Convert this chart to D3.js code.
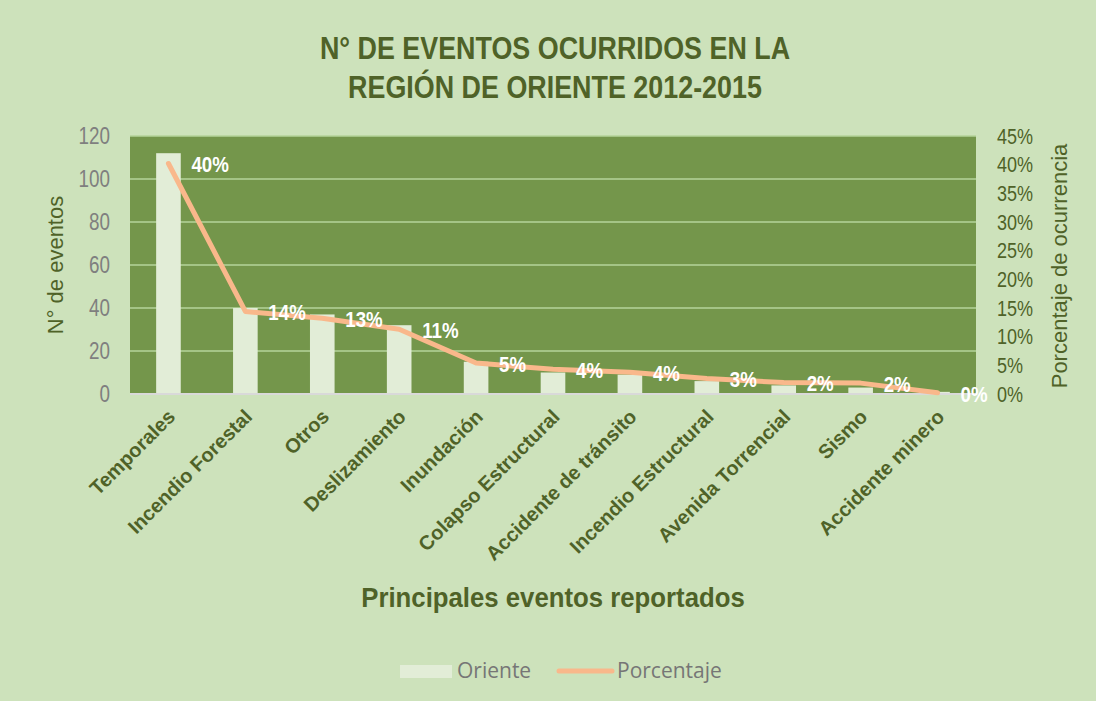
<!DOCTYPE html>
<html>
<head>
<meta charset="utf-8">
<script src="https://cdn.jsdelivr.net/npm/d3@7"></script>
<style>
  body { margin: 0; background: #cde2bb; }
  text { font-family: "Liberation Sans", Arial, sans-serif; }
  text.legend { font-family: "Open Sans", "Noto Sans", sans-serif; }
</style>
</head>
<body>
<svg id="draw"></svg>
<script>
// data
var categories = ["Temporales", "Incendio Forestal", "Otros", "Deslizamiento", "Inundación",
  "Colapso Estructural", "Accidente de tránsito", "Incendio Estructural", "Avenida Torrencial",
  "Sismo", "Accidente minero"];
var oriente = [112, 40, 37, 32, 15, 10, 9, 6, 4, 3, 1];
var porcentaje = [40.2, 14.4, 13.2, 11.3, 5.4, 4.3, 3.8, 2.7, 2.0, 1.9, 0.2];
var pctLabels = ["40%", "14%", "13%", "11%", "5%", "4%", "4%", "3%", "2%", "2%", "0%"];
var leftTicks = [0, 20, 40, 60, 80, 100, 120];
var rightTicks = [0, 5, 10, 15, 20, 25, 30, 35, 40, 45];

var W = 1096, H = 701;
var plot = { left: 130, right: 976, top: 136, bottom: 394 };
var darkGreen = "#4f6228";
var squeeze = 0.82; // no Arial Narrow here, so squeeze Liberation Sans

var svg = d3.select("#draw").attr("width", W).attr("height", H);

svg.append("rect").attr("width", W).attr("height", H).attr("fill", "#cde2bb");

var xScale = d3.scaleBand()
  .domain(categories)
  .range([plot.left, plot.right])
  .paddingInner(0.68)
  .paddingOuter(0.34);

var yScale = d3.scaleLinear().domain([0, 120]).range([plot.bottom, plot.top]);
var y2Scale = d3.scaleLinear().domain([0, 45]).range([plot.bottom, plot.top]);

// plot background
svg.append("rect")
  .attr("x", plot.left).attr("y", plot.top)
  .attr("width", plot.right - plot.left).attr("height", plot.bottom - plot.top)
  .attr("fill", "#74964b");

// gridlines
svg.append("g")
  .selectAll("line")
  .data(leftTicks.slice(1))
  .enter().append("line")
  .attr("x1", plot.left).attr("x2", plot.right)
  .attr("y1", function(d) { return yScale(d); })
  .attr("y2", function(d) { return yScale(d); })
  .attr("stroke", "#b5d39a")
  .attr("stroke-width", 1.5);

// bars
svg.selectAll(".bar")
  .data(oriente)
  .enter().append("rect")
  .attr("class", "bar")
  .attr("x", function(d, i) { return xScale(categories[i]); })
  .attr("y", function(d) { return yScale(d); })
  .attr("width", xScale.bandwidth())
  .attr("height", function(d) { return plot.bottom - yScale(d); })
  .attr("fill", "#e2edd7");

// x axis line
svg.append("line")
  .attr("x1", plot.left).attr("x2", plot.right)
  .attr("y1", plot.bottom).attr("y2", plot.bottom)
  .attr("stroke", "#d9d9d9").attr("stroke-width", 2);

// left axis
var leftAxis = svg.append("g")
  .attr("transform", "translate(" + (plot.left - 20) + ",0)")
  .call(d3.axisLeft(yScale).tickValues(leftTicks).tickSize(0).tickPadding(0));
leftAxis.select(".domain").remove();
leftAxis.selectAll("text")
  .attr("font-size", 23)
  .attr("transform", "scale(" + squeeze + ",1)")
  .attr("fill", "#7f7f7f");

// right axis
var rightAxis = svg.append("g")
  .attr("transform", "translate(" + (plot.right + 21) + ",0)")
  .call(d3.axisRight(y2Scale).tickValues(rightTicks).tickSize(0).tickPadding(0)
    .tickFormat(function(d) { return d + "%"; }));
rightAxis.select(".domain").remove();
rightAxis.selectAll("text")
  .attr("font-size", 22)
  .attr("transform", "scale(" + squeeze + ",1)")
  .attr("fill", darkGreen);

// x labels
svg.append("g")
  .selectAll("text")
  .data(categories)
  .enter().append("text")
  .attr("transform", function(d) {
    return "translate(" + (xScale(d) + xScale.bandwidth() / 2 + 8) + "," + (plot.bottom + 24) + ") rotate(-45)";
  })
  .attr("text-anchor", "end")
  .attr("font-weight", "bold")
  .attr("font-size", 20)
  .attr("fill", darkGreen)
  .text(function(d) { return d; });

// percentage line
var line = d3.line()
  .x(function(d, i) { return xScale(categories[i]) + xScale.bandwidth() / 2; })
  .y(function(d) { return y2Scale(d); });

svg.append("path")
  .datum(porcentaje)
  .attr("d", line)
  .attr("fill", "none")
  .attr("stroke", "#f9b88b")
  .attr("stroke-width", 5)
  .attr("stroke-linejoin", "round")
  .attr("stroke-linecap", "round");

// line labels
svg.selectAll(".pct")
  .data(porcentaje)
  .enter().append("text")
  .attr("class", "pct")
  .attr("transform", function(d, i) {
    return "translate(" + (xScale(categories[i]) + xScale.bandwidth() / 2 + 23) + "," + (y2Scale(d) + 1) + ") scale(0.85,1)";
  })
  .attr("dy", "0.35em")
  .attr("font-size", 22)
  .attr("font-weight", "bold")
  .attr("fill", "#ffffff")
  .text(function(d, i) { return pctLabels[i]; });

// title
var titleLines = ["N° DE EVENTOS OCURRIDOS EN LA", "REGIÓN DE ORIENTE 2012-2015"];
svg.selectAll(".title")
  .data(titleLines)
  .enter().append("text")
  .attr("class", "title")
  .attr("transform", function(d, i) { return "translate(555," + (59 + i * 39) + ") scale(0.84,1)"; })
  .attr("text-anchor", "middle")
  .attr("font-size", 32).attr("font-weight", "bold").attr("fill", darkGreen)
  .text(function(d) { return d; });

// axis titles
svg.append("text")
  .attr("transform", "translate(63,265) rotate(-90)")
  .attr("text-anchor", "middle")
  .attr("font-size", 22).attr("fill", darkGreen)
  .text("N° de eventos");

svg.append("text")
  .attr("transform", "translate(1067,266) rotate(-90)")
  .attr("text-anchor", "middle")
  .attr("font-size", 22).attr("fill", darkGreen)
  .text("Porcentaje de ocurrencia");

svg.append("text")
  .attr("transform", "translate(553,607) scale(0.92,1)")
  .attr("text-anchor", "middle")
  .attr("font-size", 28).attr("font-weight", "bold").attr("fill", darkGreen)
  .text("Principales eventos reportados");

// legend
var legend = svg.append("g");
legend.append("rect")
  .attr("x", 400).attr("y", 665).attr("width", 52).attr("height", 13)
  .attr("fill", "#e2edd7");
legend.append("text")
  .attr("class", "legend")
  .attr("x", 457).attr("y", 678)
  .attr("font-size", 21).attr("fill", "#767676")
  .text("Oriente");
legend.append("line")
  .attr("x1", 559).attr("x2", 612).attr("y1", 671).attr("y2", 671)
  .attr("stroke", "#f9b88b").attr("stroke-width", 5).attr("stroke-linecap", "round");
legend.append("text")
  .attr("class", "legend")
  .attr("x", 617).attr("y", 678)
  .attr("font-size", 21).attr("fill", "#767676")
  .text("Porcentaje");
</script>
</body>
</html>
